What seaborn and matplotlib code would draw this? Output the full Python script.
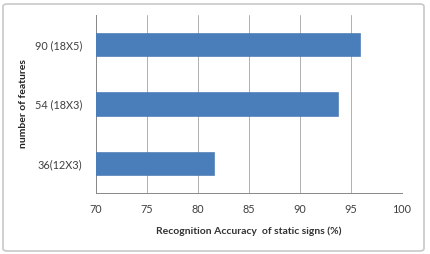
import matplotlib
matplotlib.use("Agg")
import matplotlib.pyplot as plt
from matplotlib.patches import FancyBboxPatch
import seaborn as sns
import pandas as pd

categories = ["90 (18X5)", "54 (18X3)", "36(12X3)"]
accuracy = [95.9, 93.7, 81.6]
xticks = [70, 75, 80, 85, 90, 95, 100]

df = pd.DataFrame({"features": categories, "acc": accuracy})

sns.set_style("white")
plt.rcParams["font.family"] = ["Lato", "DejaVu Sans"]

fig = plt.figure(figsize=(4.31, 2.54), dpi=100)
ax = fig.add_axes([96/431, 1 - 193/254, (402-96)/431, (193-15)/254])

sns.barplot(data=df, x="acc", y="features", orient="h", color="#4a7ebb",
            saturation=1, width=0.39, ax=ax, zorder=3,
            edgecolor="#3f70ad", linewidth=0.4)

ax.set_xlim(70, 100)
ax.set_ylim(2.5, -0.5)
ax.set_xticks(xticks)
ax.set_xticklabels([str(t) for t in xticks], fontsize=7.8, color="#404040")
ax.tick_params(axis="x", length=3, width=0.6, color="#888888", pad=5)
ax.set_yticks([0, 1, 2])
ax.set_yticklabels(categories, fontsize=7.8, color="#404040")
ax.tick_params(axis="y", length=0, pad=10)
ax.set_yticks([-0.5, 0.5, 1.5, 2.5], minor=True)
ax.tick_params(axis="y", which="minor", length=3, width=0.6, color="#888888")
ax.grid(axis="x", color="#b0b0b0", linewidth=0.7, zorder=0)
for s in ["top", "right"]:
    ax.spines[s].set_visible(False)
for s in ["left", "bottom"]:
    ax.spines[s].set_color("#888888")
    ax.spines[s].set_linewidth(0.7)

ax.set_xlabel("Recognition Accuracy  of static signs (%)", fontsize=7.5,
              fontweight="bold", color="#333333", labelpad=8)
ax.set_ylabel("number of features", fontsize=7.5, fontweight="bold",
              color="#222222", labelpad=5)

frame = FancyBboxPatch((3/431, 3/254), 421/431, 247/254,
                       boxstyle="round,pad=0,rounding_size=0.01",
                       transform=fig.transFigure, fill=False,
                       edgecolor="#c8c8c8", linewidth=1.2)
fig.patches.append(frame)

fig.savefig("out.png", dpi=100)
